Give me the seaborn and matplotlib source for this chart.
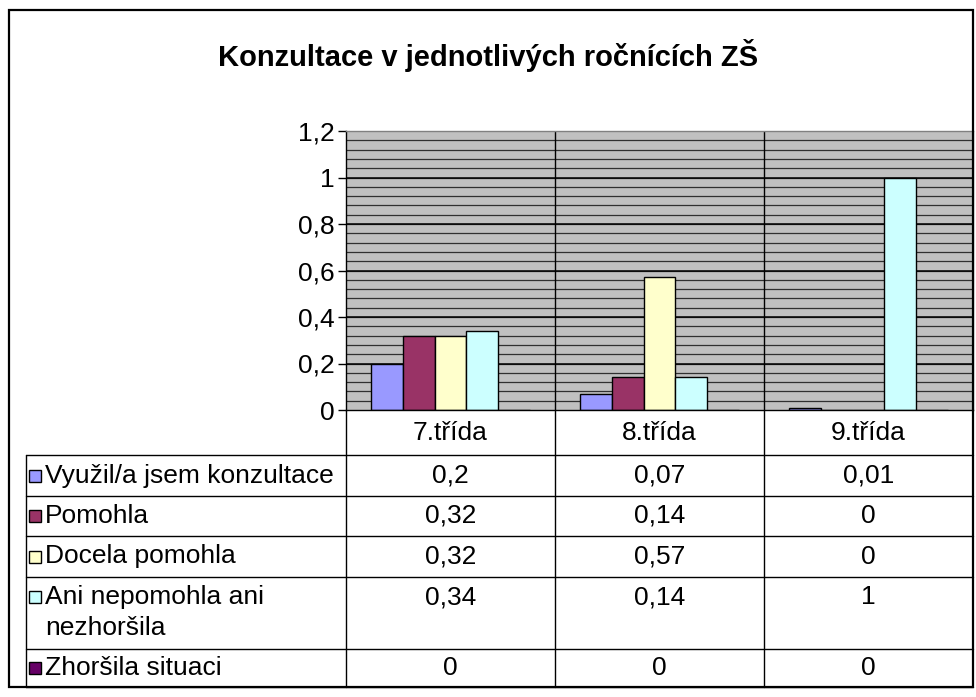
import numpy as np
import matplotlib
matplotlib.use("Agg")
import matplotlib.pyplot as plt
from matplotlib.patches import Rectangle
import pandas as pd
import seaborn as sns

# data
tridy = ["7.třída", "8.třída", "9.třída"]
serie = ["Využil/a jsem konzultace", "Pomohla", "Docela pomohla",
         "Ani nepomohla ani\nnezhoršila", "Zhoršila situaci"]
vyuzil = [0.2, 0.07, 0.01]
pomohla = [0.32, 0.14, 0]
docela = [0.32, 0.57, 0]
ani = [0.34, 0.14, 1]
zhorsila = [0, 0, 0]
barvy = ["#9999FF", "#993366", "#FFFFCC", "#CCFFFF", "#660066"]
titulek = "Konzultace v jednotlivých ročnících ZŠ"

hodnoty = [vyuzil, pomohla, docela, ani, zhorsila]
df = pd.DataFrame([(t, s, v[i]) for s, v in zip(serie, hodnoty) for i, t in enumerate(tridy)],
                  columns=["trida", "serie", "hodnota"])

def cz(v):
    return f"{v:g}".replace(".", ",")

sns.set_style("white")
plt.rcParams["font.family"] = ["Liberation Sans", "DejaVu Sans"]
plt.rcParams["text.color"] = "black"
plt.rcParams["ytick.color"] = "black"
plt.rcParams["ytick.labelcolor"] = "black"
FS = 19

W, H = 976, 697
fig = plt.figure(figsize=(W / 100, H / 100), dpi=100)

def fx(x):
    return x / W

def fy(y):
    return 1 - y / H

# plot area
ax = fig.add_axes([fx(346), fy(410), (973 - 346) / W, (410 - 131) / H])
ax.set_facecolor("#C0C0C0")
for y in np.arange(0.04, 1.2, 0.04):
    ax.axhline(y, color="#303030", lw=0.9, zorder=0)
for y in np.arange(0.2, 1.2, 0.2):
    ax.axhline(y, color="black", lw=1.1, zorder=0)
sns.barplot(data=df, x="trida", y="hodnota", hue="serie", hue_order=serie,
            palette=barvy, saturation=1, width=0.76, edgecolor="black",
            linewidth=1.0, legend=False, ax=ax, zorder=2)
ax.axvline(0.5, color="black", lw=1, zorder=1)
ax.axvline(1.5, color="black", lw=1, zorder=1)
ax.set_xlim(-0.5, 2.5)
ax.set_ylim(0, 1.2)
yt = np.round(np.arange(0, 1.21, 0.2), 1)
ax.set_yticks(yt)
ax.set_yticklabels([cz(v) for v in yt], fontsize=FS, color="black")
ax.set_xticks([])
ax.set_xlabel("")
ax.set_ylabel("")
ax.tick_params(axis="y", direction="out", length=6, width=1, color="black", pad=2, left=True)
for s in ax.spines.values():
    s.set_color("#808080")
    s.set_linewidth(1)
ax.spines["left"].set_color("black")
ax.spines["bottom"].set_color("black")

# data table
left_u = -0.5 - 320 / 209
tab = fig.add_axes([fx(26), fy(687), (973 - 26) / W, (687 - 410) / H])
tab.set_xlim(left_u, 2.5)
tab.set_ylim(277, 0)
tab.axis("off")

def xu(px):
    return left_u + (px - 26) / 209

rows = [0, 45, 86, 126, 167, 239, 277]
for r in rows[1:]:
    tab.plot([left_u, 2.5], [r, r], color="black", lw=1, clip_on=False)
for x in [-0.5, 0.5, 1.5]:
    tab.plot([x, x], [0, 277], color="black", lw=1, clip_on=False)
tab.plot([left_u, left_u], [45, 277], color="black", lw=1, clip_on=False)

for i, t in enumerate(tridy):
    tab.text(i, 23, t, ha="center", va="center", fontsize=FS)

for k, (s, v, c) in enumerate(zip(serie, hodnoty, barvy)):
    yc = (rows[k + 1] + rows[k + 2]) / 2
    if "\n" in s:
        yc = rows[k + 1] + 20
    tab.add_patch(Rectangle((xu(29), yc - 6), 12 / 209, 12, facecolor=c,
                            edgecolor="black", lw=1, clip_on=False))
    for j, line in enumerate(s.split("\n")):
        tab.text(xu(45), yc + j * 31, line, ha="left", va="center", fontsize=FS)
    for i, val in enumerate(v):
        tab.text(i, yc, cz(val), ha="center", va="center", fontsize=FS)

fig.text(0.5, fy(55), titulek, ha="center", va="center", fontsize=21, fontweight="bold")
fig.add_artist(Rectangle((fx(9), fy(687)), (973 - 9) / W, (687 - 10) / H,
                         transform=fig.transFigure, fill=False, edgecolor="black", lw=1.6))

fig.savefig("out.png", dpi=100)
